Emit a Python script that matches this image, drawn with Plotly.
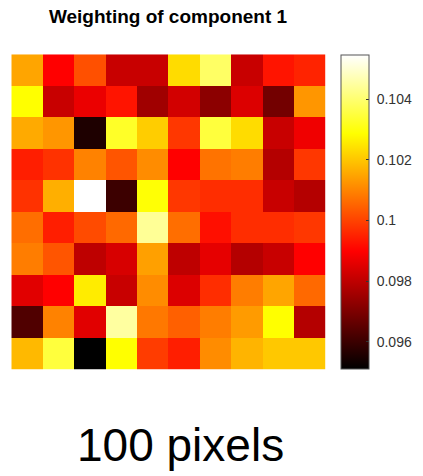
import plotly.graph_objects as go

# 10x10 weighting map for component 1 (row 1 = top row of the image)
weights = [
    [0.10150, 0.09899, 0.10021, 0.09815, 0.09815, 0.10234, 0.10388, 0.09815, 0.09929, 0.09952],
    [0.10287, 0.09815, 0.09869, 0.09929, 0.09754, 0.09831, 0.09724, 0.09846, 0.09686, 0.10127],
    [0.10157, 0.10127, 0.09557, 0.10327, 0.10211, 0.09983, 0.10348, 0.10234, 0.09815, 0.09876],
    [0.09944, 0.09975, 0.10096, 0.10028, 0.10112, 0.09899, 0.10074, 0.10089, 0.09785, 0.09983],
    [0.09975, 0.10165, 0.10545, 0.09602, 0.10292, 0.09983, 0.09967, 0.09967, 0.09815, 0.09785],
    [0.10066, 0.09944, 0.10013, 0.10058, 0.10439, 0.10066, 0.09921, 0.09967, 0.09967, 0.09983],
    [0.10089, 0.10028, 0.09800, 0.09838, 0.10142, 0.09800, 0.09860, 0.09785, 0.09815, 0.09899],
    [0.09853, 0.09899, 0.10257, 0.09815, 0.10112, 0.09846, 0.09967, 0.10089, 0.10150, 0.10058],
    [0.09633, 0.10096, 0.09853, 0.10449, 0.10081, 0.10044, 0.10089, 0.10135, 0.10287, 0.09785],
    [0.10180, 0.10348, 0.09511, 0.10287, 0.09990, 0.09944, 0.10112, 0.10173, 0.10203, 0.10203],
]
columns = list(range(1, 11))
rows = list(range(1, 11))

cbar_ticks = [0.096, 0.098, 0.100, 0.102, 0.104]
cbar_labels = ["0.096", "0.098", "0.1", "0.102", "0.104"]

title_text = "Weighting of component 1"
caption_text = "100 pixels"

# black -> red -> yellow -> white ("hot" map)
hot = [[0.0, "rgb(0,0,0)"], [0.375, "rgb(255,0,0)"],
       [0.75, "rgb(255,255,0)"], [1.0, "rgb(255,255,255)"]]

W, H = 423, 476
FONT = "Liberation Sans, Arial, Helvetica, sans-serif"

fig = go.Figure(go.Heatmap(
    z=weights, x=columns, y=rows,
    colorscale=hot, zsmooth=False,
    zmin=min(min(r) for r in weights), zmax=max(max(r) for r in weights),
    colorbar=dict(
        x=340.7 / W, xanchor="left", xpad=0,
        y=1 - 212 / H, yanchor="middle", ypad=0,
        thickness=28, thicknessmode="pixels",
        len=314, lenmode="pixels",
        outlinecolor="#555555", outlinewidth=1,
        tickvals=cbar_ticks,
        # small gap between the bar edge and the labels
        ticktext=["\u00a0" + t for t in cbar_labels],
        ticks="inside", ticklen=3, tickcolor="#333333",
        tickfont=dict(family=FONT, size=14, color="#333333"),
    ),
    hoverinfo="skip",
))

fig.update_layout(
    width=W, height=H,
    margin=dict(l=0, r=0, t=0, b=0),
    paper_bgcolor="white", plot_bgcolor="white",
    xaxis=dict(domain=[11.3 / W, 325.7 / W], visible=False, showgrid=False,
               range=[0.5, 10.5]),
    yaxis=dict(domain=[1 - 369.7 / H, 1 - 54.3 / H], visible=False, showgrid=False,
               range=[10.5, 0.5]),
    title=dict(text="<b>" + title_text + "</b>", x=168 / W, xanchor="center",
               y=1 - 16 / H, yanchor="middle", yref="container",
               font=dict(family=FONT, size=19, color="black")),
    annotations=[dict(text=caption_text, x=180 / W, y=1 - 445 / H,
                      xref="paper", yref="paper", xanchor="center", yanchor="middle",
                      showarrow=False,
                      font=dict(family=FONT, size=46, color="black"))],
)

fig.write_html("out.html")
